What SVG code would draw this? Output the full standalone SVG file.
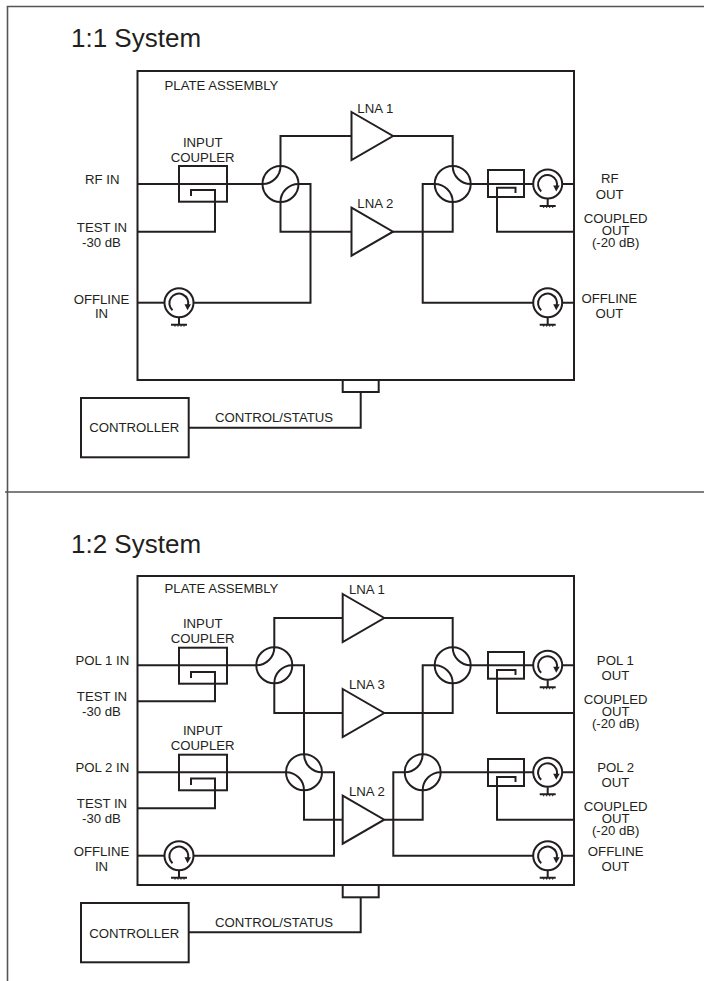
<svg xmlns="http://www.w3.org/2000/svg" xmlns:xlink="http://www.w3.org/1999/xlink" width="704" height="981" viewBox="0 0 704 981">
<style>
.l{fill:none;stroke:#231f20;stroke-width:2;stroke-linejoin:miter}
.f{fill:#fff;stroke:#231f20;stroke-width:2}
.t{font-family:"Liberation Sans",Arial,sans-serif;font-size:13.2px;fill:#231f20}
.m{text-anchor:middle}
.h{font-family:"Liberation Sans",Arial,sans-serif;font-size:26px;fill:#231f20}
.fr{fill:none;stroke:#555;stroke-width:1.6}
</style>
<defs>
<g id="circ">
<circle class="l" r="14.5"/>
<path class="l" d="M-6.5 7.5A9.5 9.5 0 1 1 9 3"/>
<path d="M5.5 1.5L12 1.5L8.5 7.5Z" fill="#231f20"/>
<path class="l" d="M0 15V22M-8 22H8"/>
<path d="M-4 22v2M-1 22v2M2 22v2M5 22v2" stroke="#231f20" stroke-width="1" fill="none"/>
</g>
<g id="hyA">
<circle class="l" r="18"/>
<path class="l" d="M0 -18A18 18 0 0 1 -18 0M18 0A18 18 0 0 0 0 18"/>
</g>
<g id="hyB">
<circle class="l" r="18"/>
<path class="l" d="M0 -18A18 18 0 0 0 18 0M-18 0A18 18 0 0 1 0 18"/>
</g>
<path id="amp" class="f" d="M0 -24L41.500 0L0 24Z"/>
</defs>

<g id="frame"><path class="fr" d="M7.500 981V6.500H704M5 492H704"/></g>

<g id="connectors">
<!-- 1:1 -->
<path class="l" d="M137.500 184H262.500"/>
<path class="l" d="M298.500 184H310.500V302.700H194"/>
<path class="l" d="M137.500 302.700H164"/>
<path class="l" d="M137.500 231.700H215V190H191V196"/>
<path class="l" d="M280.500 166V136H351.500"/>
<path class="l" d="M280.500 202V231.700H351.500"/>
<path class="l" d="M393 136H452.700V166"/>
<path class="l" d="M393 231.700H452.700V202"/>
<path class="l" d="M434.700 184H422.700V302.700H533"/>
<path class="l" d="M470.700 184H533M562.500 184H574M562.500 302.700H574"/>
<path class="l" d="M574 231.700H497V187.700H515.500V193"/>
<path class="l" d="M360.700 392V427.700H188.700"/>
<!-- 1:2 -->
<path class="l" d="M137.500 665.300H256.300"/>
<path class="l" d="M137.500 701.300H215V672H191V678"/>
<path class="l" d="M137.500 772.300H286"/>
<path class="l" d="M137.500 808.300H215V778.500H191V785"/>
<path class="l" d="M137.500 855.700H164"/>
<path class="l" d="M292.300 665.300H304V754.300"/>
<path class="l" d="M322 772.300H334V855.700H194"/>
<path class="l" d="M274.300 647.300V618H342.700"/>
<path class="l" d="M274.300 683.300V713H342.700"/>
<path class="l" d="M304 790.300V819.700H342.700"/>
<path class="l" d="M384.300 618H452.700V647.300"/>
<path class="l" d="M384.300 713H452.700V683.300"/>
<path class="l" d="M434.700 665.300H422.700V754.300"/>
<path class="l" d="M384.300 819.700H422.700V790.300"/>
<path class="l" d="M404.700 772.300H393.300V855.700H533"/>
<path class="l" d="M470.700 665.300H533M562.500 665.300H574"/>
<path class="l" d="M440.700 772.300H533M562.500 772.300H574M562.500 855.700H574"/>
<path class="l" d="M574 713H497V670H515.500V675"/>
<path class="l" d="M574 819.700H497V777H515.500V782"/>
<path class="l" d="M360.700 897.300V932.300H188.700"/>
</g>

<g id="system-1-title"><text class="h" x="71" y="47">1:1 System</text></g>
<g id="plate-1"><rect class="l" x="137.500" y="71" width="436.500" height="309"/>
<text class="t" x="164.500" y="90">PLATE ASSEMBLY</text></g>
<g id="input-labels-1">
<text class="t m" x="102.300" y="184">RF IN</text>
<text class="t m" x="102" y="232">TEST IN</text>
<text class="t m" x="101.500" y="246.700">-30 dB</text>
<text class="t m" x="101.500" y="303.700">OFFLINE</text>
<text class="t m" x="101.500" y="318">IN</text>
</g>
<g id="output-labels-1">
<text class="t m" x="609.700" y="183.300">RF</text>
<text class="t m" x="609.700" y="199">OUT</text>
<text class="t m" x="615.700" y="223.300">COUPLED</text>
<text class="t m" x="615.700" y="235">OUT</text>
<text class="t m" x="615.700" y="246.700">(-20 dB)</text>
<text class="t m" x="609.300" y="303.300">OFFLINE</text>
<text class="t m" x="609.300" y="318.300">OUT</text>
</g>
<g id="input-coupler-1"><rect class="l" x="179" y="166" width="48" height="35.700"/>
<text class="t m" x="202.700" y="146.700">INPUT</text>
<text class="t m" x="202.700" y="162">COUPLER</text></g>
<g id="output-coupler-1"><rect class="l" x="488" y="170" width="36" height="27"/></g>
<g id="hybrid-1a"><use href="#hyA" x="280.500" y="184"/></g>
<g id="hybrid-1b"><use href="#hyB" x="452.700" y="184"/></g>
<g id="lna-1-1"><use href="#amp" x="351.500" y="136"/><text class="t" x="357.300" y="113.300">LNA 1</text></g>
<g id="lna-1-2"><use href="#amp" x="351.500" y="231.700"/><text class="t" x="357.300" y="208.300">LNA 2</text></g>
<g id="circ-1a"><use href="#circ" x="179" y="302.700"/></g>
<g id="circ-1b"><use href="#circ" x="547.700" y="184"/></g>
<g id="circ-1c"><use href="#circ" x="547.700" y="302.700"/></g>
<g id="tab-1"><rect class="l" x="342.700" y="380" width="36" height="12"/></g>
<g id="controller-1"><rect class="l" x="81" y="398" width="107.700" height="59.300"/>
<text class="t m" x="134.300" y="432.300">CONTROLLER</text></g>
<g id="control-label-1"><text class="t m" x="274" y="422">CONTROL/STATUS</text></g>

<g id="system-2-title"><text class="h" x="71" y="553">1:2 System</text></g>
<g id="plate-2"><rect class="l" x="137.500" y="576" width="436.500" height="309"/>
<text class="t" x="164.500" y="593.300">PLATE ASSEMBLY</text></g>
<g id="input-labels-2">
<text class="t m" x="102.300" y="665.300">POL 1 IN</text>
<text class="t m" x="102" y="701.300">TEST IN</text>
<text class="t m" x="101.500" y="716">-30 dB</text>
<text class="t m" x="102.300" y="772">POL 2 IN</text>
<text class="t m" x="102" y="808.300">TEST IN</text>
<text class="t m" x="101.500" y="823.300">-30 dB</text>
<text class="t m" x="101.500" y="856.300">OFFLINE</text>
<text class="t m" x="101.500" y="871">IN</text>
</g>
<g id="output-labels-2">
<text class="t m" x="615.300" y="665.300">POL 1</text>
<text class="t m" x="615.300" y="680.300">OUT</text>
<text class="t m" x="615.700" y="704.300">COUPLED</text>
<text class="t m" x="615.700" y="716.300">OUT</text>
<text class="t m" x="615.700" y="728.300">(-20 dB)</text>
<text class="t m" x="615.700" y="772">POL 2</text>
<text class="t m" x="615.300" y="787.300">OUT</text>
<text class="t m" x="615.700" y="811.300">COUPLED</text>
<text class="t m" x="615.700" y="823.300">OUT</text>
<text class="t m" x="615.700" y="835.300">(-20 dB)</text>
<text class="t m" x="615.700" y="856.300">OFFLINE</text>
<text class="t m" x="615.300" y="871.300">OUT</text>
</g>
<g id="input-coupler-2a"><rect class="l" x="179" y="647.700" width="48" height="36"/>
<text class="t m" x="202.700" y="628.300">INPUT</text>
<text class="t m" x="202.700" y="643.300">COUPLER</text></g>
<g id="input-coupler-2b"><rect class="l" x="179" y="754.700" width="48" height="35.600"/>
<text class="t m" x="202.700" y="735.300">INPUT</text>
<text class="t m" x="202.700" y="750.300">COUPLER</text></g>
<g id="output-coupler-2a"><rect class="l" x="488" y="652" width="36" height="26.700"/></g>
<g id="output-coupler-2b"><rect class="l" x="488" y="759" width="36" height="27"/></g>
<g id="hybrid-2a"><use href="#hyA" x="274.300" y="665.300"/></g>
<g id="hybrid-2b"><use href="#hyB" x="304" y="772.300"/></g>
<g id="hybrid-2c"><use href="#hyB" x="452.700" y="665.300"/></g>
<g id="hybrid-2d"><use href="#hyA" x="422.700" y="772.300"/></g>
<g id="lna-2-1"><use href="#amp" x="342.700" y="618"/><text class="t" x="349" y="594">LNA 1</text></g>
<g id="lna-2-3"><use href="#amp" x="342.700" y="713"/><text class="t" x="349" y="689">LNA 3</text></g>
<g id="lna-2-2"><use href="#amp" x="342.700" y="819.700"/><text class="t" x="349" y="796">LNA 2</text></g>
<g id="circ-2a"><use href="#circ" x="179" y="855.700"/></g>
<g id="circ-2b"><use href="#circ" x="547.700" y="665.300"/></g>
<g id="circ-2c"><use href="#circ" x="547.700" y="772.300"/></g>
<g id="circ-2d"><use href="#circ" x="547.700" y="855.700"/></g>
<g id="tab-2"><rect class="l" x="342.700" y="885" width="36" height="12.300"/></g>
<g id="controller-2"><rect class="l" x="81" y="903" width="107.700" height="59.300"/>
<text class="t m" x="134.300" y="938">CONTROLLER</text></g>
<g id="control-label-2"><text class="t m" x="274" y="927.300">CONTROL/STATUS</text></g>
</svg>
